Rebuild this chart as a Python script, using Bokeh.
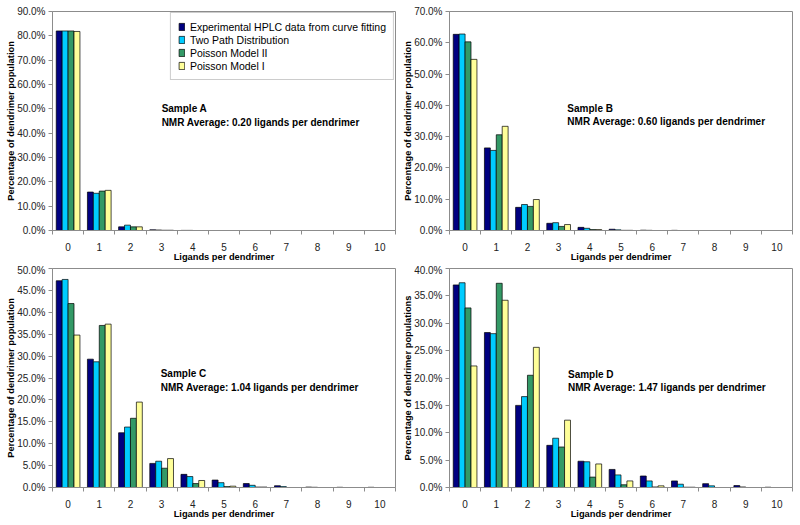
from bokeh.plotting import figure
from bokeh.layouts import gridplot
from bokeh.models import (ColumnDataSource, FixedTicker, PrintfTickFormatter,
                          Range1d, Legend, LegendItem, Label)
from bokeh.embed import file_html
from bokeh.resources import INLINE

# ---------------- data (percent of dendrimer population) ----------------
ligands = list(range(11))
series_names = ["Experimental HPLC data from curve fitting", "Two Path Distribution",
                "Poisson Model II", "Poisson Model I"]
series_colors = ["#000080", "#00CCFF", "#339966", "#FFFF99"]

a_hplc = [82.0, 15.8, 1.5, 0.3, 0.05, 0, 0, 0, 0, 0, 0]
a_twopath = [82.0, 15.3, 2.2, 0.2, 0.05, 0, 0, 0, 0, 0, 0]
a_poisson2 = [82.0, 16.2, 1.5, 0.1, 0.0, 0, 0, 0, 0, 0, 0]
a_poisson1 = [81.8, 16.5, 1.5, 0.1, 0.0, 0, 0, 0, 0, 0, 0]

b_hplc = [62.7, 26.4, 7.4, 2.3, 1.0, 0.4, 0.1, 0.05, 0, 0, 0]
b_twopath = [62.8, 25.6, 8.3, 2.5, 0.7, 0.2, 0.05, 0, 0, 0, 0]
b_poisson2 = [60.3, 30.6, 7.7, 1.3, 0.3, 0.05, 0, 0, 0, 0, 0]
b_poisson1 = [54.7, 33.3, 9.9, 1.9, 0.3, 0.05, 0, 0, 0, 0, 0]

c_hplc = [47.2, 29.3, 12.5, 5.5, 3.0, 1.7, 0.9, 0.4, 0.1, 0.05, 0.05]
c_twopath = [47.5, 28.7, 13.8, 6.0, 2.5, 1.1, 0.5, 0.2, 0.05, 0, 0]
c_poisson2 = [42.0, 37.0, 15.8, 4.4, 0.9, 0.2, 0.1, 0.0, 0, 0, 0]
c_poisson1 = [34.8, 37.3, 19.5, 6.6, 1.6, 0.3, 0.1, 0.0, 0, 0, 0]

d_hplc = [37.0, 28.3, 15.0, 7.7, 4.8, 3.3, 2.1, 1.2, 0.7, 0.35, 0.05]
d_twopath = [37.4, 28.1, 16.6, 9.0, 4.7, 2.3, 1.2, 0.6, 0.3, 0.1, 0]
d_poisson2 = [32.8, 37.3, 20.5, 7.4, 1.9, 0.5, 0.1, 0.05, 0, 0, 0]
d_poisson1 = [22.2, 34.2, 25.6, 12.3, 4.3, 1.2, 0.3, 0.05, 0, 0, 0]

FONT = "Liberation Sans"
AXIS_GRAY = "#8c8c8c"
BAR_W = 0.19


def make_panel(series, ymax, ystep, ylabel, note, note_x, note_y,
               height, top, bottom, left, right, legend=False):
    p = figure(width=400, height=height, output_backend="svg", toolbar_location=None,
               x_range=Range1d(-0.5, 10.5), y_range=Range1d(0, ymax),
               min_border_top=top, min_border_left=left, min_border_right=right,
               min_border_bottom=bottom)
    p.grid.visible = False
    p.outline_line_color = AXIS_GRAY
    p.outline_line_width = 1
    p.background_fill_color = "white"
    p.border_fill_color = "white"

    renderers = []
    for i, vals in enumerate(series):
        xs = [c + (i - 1.5) * BAR_W for c in ligands]
        src = ColumnDataSource(dict(x=xs, top=vals))
        r = p.vbar(x="x", top="top", bottom=0, width=BAR_W, source=src,
                   fill_color=series_colors[i], line_color="black", line_width=0.7)
        renderers.append(r)

    # y axis
    yticks = [round(v * ystep, 6) for v in range(int(round(ymax / ystep)) + 1)]
    p.yaxis.ticker = FixedTicker(ticks=yticks)
    p.yaxis.formatter = PrintfTickFormatter(format="%.1f%%")
    p.yaxis.axis_label = ylabel
    p.yaxis.major_tick_out = 4
    p.yaxis.major_tick_in = 0
    p.yaxis.minor_tick_out = 0
    p.yaxis.minor_tick_in = 0
    p.yaxis.major_label_standoff = 3
    p.yaxis.axis_label_standoff = -2

    # x axis
    p.xaxis.ticker = FixedTicker(ticks=ligands, minor_ticks=[c - 0.5 for c in ligands] + [10.5])
    p.xaxis.axis_label = "Ligands per dendrimer"
    p.xaxis.major_tick_out = 0
    p.xaxis.major_tick_in = 0
    p.xaxis.minor_tick_out = 4
    p.xaxis.minor_tick_in = 0
    p.xaxis.major_label_standoff = 8
    p.xaxis.axis_label_standoff = -2

    for ax in (p.xaxis, p.yaxis):
        ax.axis_line_color = AXIS_GRAY
        ax.major_tick_line_color = AXIS_GRAY
        ax.minor_tick_line_color = AXIS_GRAY
        ax.major_label_text_font = FONT
        ax.major_label_text_font_size = "10px"
        ax.major_label_text_color = "#222222"
        ax.axis_label_text_font = FONT
        ax.axis_label_text_font_size = "9.3px"
        ax.axis_label_text_font_style = "bold"
        ax.axis_label_text_color = "black"

    lab = Label(x=note_x, y=note_y, text=note, text_font=FONT, text_font_size="10px",
                text_font_style="bold", text_color="black", text_baseline="top",
                text_align="left")
    p.add_layout(lab)

    if legend:
        items = [LegendItem(label=series_names[i], renderers=[renderers[i]]) for i in range(4)]
        lg = Legend(items=items, location="top_right", margin=1, padding=7, spacing=0,
                    label_height=13, glyph_height=9, glyph_width=7, label_standoff=5,
                    label_text_font=FONT, label_text_font_size="10.5px",
                    label_text_color="black", border_line_color="#9a9a9a",
                    border_line_width=1, background_fill_color="white",
                    background_fill_alpha=1.0)
        p.add_layout(lg)
    return p


pa = make_panel([a_hplc, a_twopath, a_poisson2, a_poisson1], 90, 10,
                "Percentage of dendrimer population",
                "Sample A\nNMR Average: 0.20 ligands per dendrimer", 3.0, 52.2,
                264, 11, 34, 50, 5, legend=True)
pb = make_panel([b_hplc, b_twopath, b_poisson2, b_poisson1], 70, 10,
                "Percentage of dendrimer population",
                "Sample B\nNMR Average: 0.60 ligands per dendrimer", 3.28, 40.9,
                264, 11, 34, 49, 8)
pc = make_panel([c_hplc, c_twopath, c_poisson2, c_poisson1], 50, 5,
                "Percentage of dendrimer population",
                "Sample C\nNMR Average: 1.04 ligands per dendrimer", 2.97, 27.2,
                261, 4, 38, 52, 5)
pd_ = make_panel([d_hplc, d_twopath, d_poisson2, d_poisson1], 40, 5,
                 "Percentage of dendrimer populations",
                 "Sample D\nNMR Average: 1.47 ligands per dendrimer", 3.3, 21.6,
                 261, 4, 38, 48, 8)

grid = gridplot([[pa, pb], [pc, pd_]], toolbar_location=None)

open("out.html", "w").write(file_html(grid, INLINE))
